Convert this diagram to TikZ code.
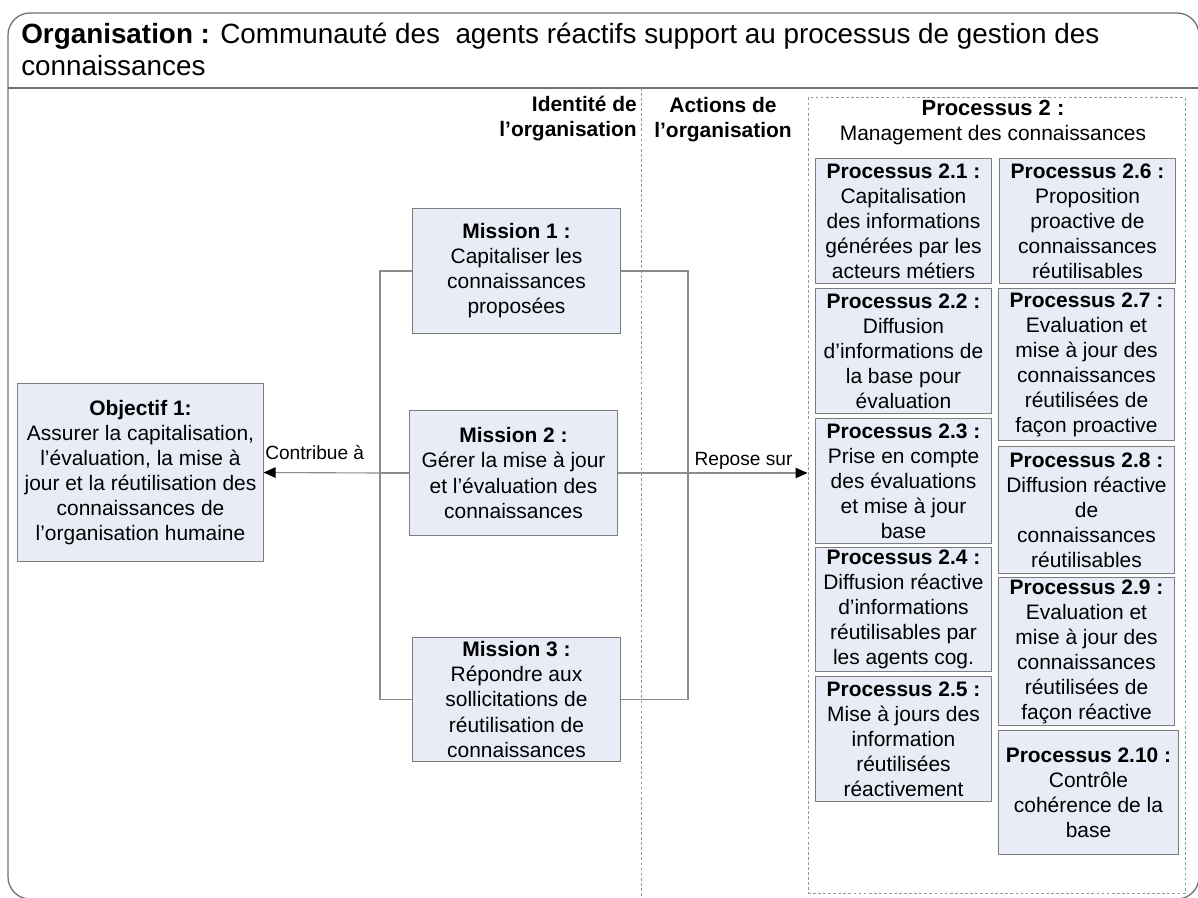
\documentclass[tikz,border=0pt]{standalone}
\usepackage{fontspec}
\setmainfont{Liberation Sans}
\usepackage{xcolor}
\usetikzlibrary{arrows.meta,positioning,calc}
\definecolor{C_frame}{RGB}{112,112,112}
\definecolor{C_line}{RGB}{140,140,140}
\definecolor{C_dash}{RGB}{150,150,150}
\definecolor{C_boxfill}{RGB}{231,236,246}
\definecolor{C_boxdraw}{RGB}{125,125,125}

\begin{document}
\begin{tikzpicture}[x=0.025cm, y=-0.025cm, every node/.style={font=\fontsize{14.9}{17.8}\selectfont, inner sep=0pt}]
  \tikzset{
    titre/.style={font=\fontsize{19.8}{22.6}\selectfont, align=left, anchor=north west},
    entete/.style={font=\bfseries\fontsize{14.9}{17.8}\selectfont},
    bloc/.style={rectangle, draw=C_boxdraw, fill=C_boxfill, line width=0.7pt, align=center, inner sep=0pt},
    mission/.style={bloc, minimum width=5.175cm, minimum height=3.1cm},
    proc/.style={bloc, minimum width=4.375cm},
    cadre/.style={C_frame, line width=0.9pt},
    liaison/.style={C_line, line width=0.8pt},
    fleche/.style={liaison, -{Triangle[length=3mm, width=2.6mm, color=black]}},
    pointille/.style={C_dash, line width=0.6pt, dash pattern=on 2pt off 1.6pt},
    lab/.style={inner sep=4pt, text=black, font=\fontsize{13.6}{16}\selectfont}
  }
  \useasboundingbox (0,0) rectangle (1198,898);

  % cadre et titre
  \draw[cadre, rounded corners=0.55cm] (8,13) rectangle (1199,899);
  \draw[cadre] (8,88) -- (1199,88);
  \node[titre] (titre) at (21,23) {\textbf{Organisation :} Communauté des\ \ agents réactifs support au processus de gestion des\\connaissances};

  % colonnes
  \draw[pointille] (641,88) -- (641,898);
  \node[entete, align=right, anchor=north east] (ident) at (637,96) {Identité de\\l’organisation};
  \node[entete, align=center, anchor=north] (actions) at (723,97) {Actions de\\l’organisation};

  \node[draw=C_dash, line width=0.6pt, dash pattern=on 2pt off 1.6pt, minimum width=9.425cm, minimum height=19.875cm] (p2) at (996.5,495.5) {};
  \node[align=center, anchor=north] (p2titre) at (993,100) {{\bfseries\fontsize{15.6}{17.8}\selectfont Processus 2 :}\\Management des connaissances};

  % objectif et missions
  \node[bloc, minimum width=6.125cm, minimum height=4.425cm] (obj) at (140.5,472.5) {\textbf{Objectif 1:}\\Assurer la capitalisation,\\l’évaluation, la mise à\\jour et la réutilisation des\\connaissances de\\l’organisation humaine};
  \node[mission] (m1) at (516.5,271) {\textbf{Mission 1 :}\\Capitaliser les\\connaissances\\proposées};
  \node[mission] (m2) at (513.5,473) {\textbf{Mission 2 :}\\Gérer la mise à jour\\et l’évaluation des\\connaissances};
  \node[mission] (m3) at (516.5,699.5) {\textbf{Mission 3 :}\\Répondre aux\\sollicitations de\\réutilisation de\\connaissances};

  % processus
  \node[proc, minimum height=3.1cm] (p21) at (903.5,221) {\textbf{Processus 2.1 :}\\Capitalisation\\des informations\\générées par les\\acteurs métiers};
  \node[proc, minimum height=3.1cm] (p22) at (903.5,351) {\textbf{Processus 2.2 :}\\Diffusion\\d’informations de\\la base pour\\évaluation};
  \node[proc, minimum height=3.1cm] (p23) at (903.5,481) {\textbf{Processus 2.3 :}\\Prise en compte\\des évaluations\\et mise à jour\\base};
  \node[proc, minimum height=3.075cm] (p24) at (903.5,609.5) {\textbf{Processus 2.4 :}\\Diffusion réactive\\d’informations\\réutilisables par\\les agents cog.};
  \node[proc, minimum height=3.1cm] (p25) at (903.5,739) {\textbf{Processus 2.5 :}\\Mise à jours des\\information\\réutilisées\\réactivement};
  \node[proc, minimum height=3.1cm] (p26) at (1087.5,221) {\textbf{Processus 2.6 :}\\Proposition\\proactive de\\connaissances\\réutilisables};
  \node[proc, minimum height=3.775cm] (p27) at (1086.5,364.5) {\textbf{Processus 2.7 :}\\Evaluation et\\mise à jour des\\connaissances\\réutilisées de\\façon proactive};
  \node[proc, minimum height=3.15cm] (p28) at (1086.5,510) {\textbf{Processus 2.8 :}\\Diffusion réactive\\de\\connaissances\\réutilisables};
  \node[proc, minimum height=3.675cm] (p29) at (1086.5,651.5) {\textbf{Processus 2.9 :}\\Evaluation et\\mise à jour des\\connaissances\\réutilisées de\\façon réactive};
  \node[proc, minimum width=4.475cm, minimum height=3.075cm] (p210) at (1088.5,792.5) {\textbf{Processus 2.10 :}\\Contrôle\\cohérence de la\\base};

  % liaisons
  \coordinate (busg) at (380,473);
  \coordinate (busd) at (688,473);
  \draw[liaison] (m1.west) -| (busg |- m3.west) -- (m3.west);
  \draw[liaison] (m2.west) -- (busg);
  \draw[fleche] (busg) -- node[above, lab, xshift=-5pt, yshift=5pt] {Contribue à} (obj.east);
  \draw[liaison] (m1.east) -| (busd |- m3.east) -- (m3.east);
  \draw[liaison] (m2.east) -- (busd);
  \draw[fleche] (busd) -- node[above, lab, xshift=-3pt, yshift=-2pt] {Repose sur} (busd -| p2.west);
\end{tikzpicture}
\end{document}
